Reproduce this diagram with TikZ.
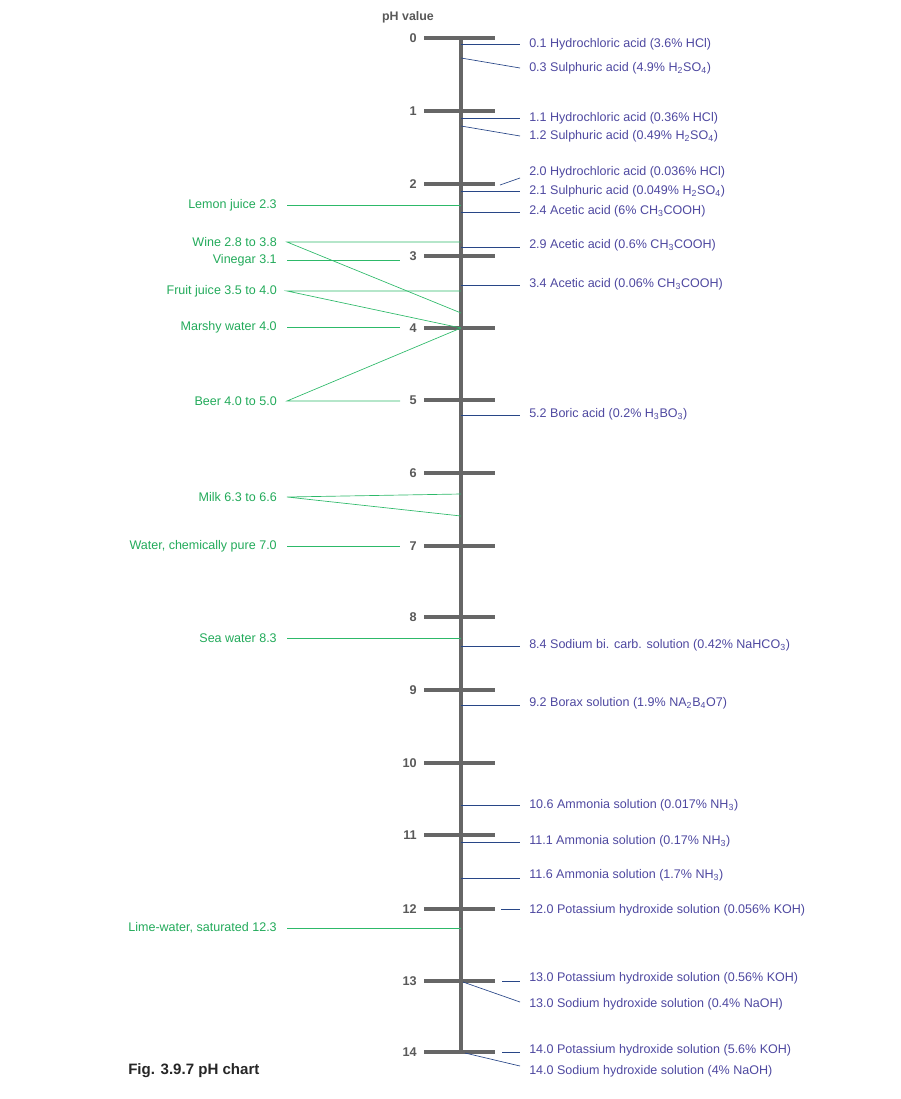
\documentclass[tikz,border=0pt]{standalone}
\usepackage{fontspec}
\setmainfont{Liberation Sans}
\begin{document}
\begin{tikzpicture}[x=0.75pt,y=-0.75pt,
  axis/.style={draw=black!60,line width=2.3pt},
  num/.style={font=\bfseries\fontsize{9.5}{10}\selectfont,text=black!65,anchor=east,inner sep=0},
  rl/.style={font=\fontsize{9.4}{10}\selectfont,text={rgb,255:red,78;green,72;blue,160},anchor=west,inner sep=0},
  ll/.style={font=\fontsize{9.4}{10}\selectfont,text={rgb,255:red,34;green,170;blue,90},anchor=east,inner sep=0},
  rc/.style={draw={rgb,255:red,40;green,70;blue,135},line width=0.5pt},
  lc/.style={draw={rgb,255:red,45;green,185;blue,105},line width=0.5pt}]
\useasboundingbox (0,0) rectangle (900,1099);
\node[font=\bfseries\fontsize{9.3}{10}\selectfont,text=black!65,inner sep=0] (phv) at (408,17) {pH value};
\coordinate (top) at (461,38); \coordinate (bot) at (461,1052);
\draw[axis] (top) -- (bot);
\foreach \i/\y in {0/38,1/111,2/184,3/256,4/328,5/400,6/473,7/546,8/617,9/690,10/763,11/835,12/909,13/981,14/1052}{
  \coordinate (ta\i) at (424,\y); \coordinate (tb\i) at (495,\y);
  \draw[axis] (ta\i) -- (tb\i);
  \node[num] (n\i) at (417,\y) {\i};
}
% right side
\foreach \nm/\ya/\xa/\yb/\yt/\txt in {
 a/44/461/44/44/{0.1 Hydrochloric acid (3.6\% HCl)},
 b/58/461/68/68/{0.3 Sulphuric acid (4.9\% H\textsubscript{2}SO\textsubscript{4})},
 c/118/461/118/118/{1.1 Hydrochloric acid (0.36\% HCl)},
 d/126/461/136/136/{1.2 Sulphuric acid (0.49\% H\textsubscript{2}SO\textsubscript{4})},
 e/185/500/178/172/{2.0 Hydrochloric acid (0.036\% HCl)},
 f/191/461/191/191/{2.1 Sulphuric acid (0.049\% H\textsubscript{2}SO\textsubscript{4})},
 g/212/461/212/211/{2.4 Acetic acid (6\% CH\textsubscript{3}COOH)},
 h/247/461/247/245/{2.9 Acetic acid (0.6\% CH\textsubscript{3}COOH)},
 i/285/461/285/284/{3.4 Acetic acid (0.06\% CH\textsubscript{3}COOH)},
 j/415/461/415/414/{5.2 Boric acid (0.2\% H\textsubscript{3}BO\textsubscript{3})},
 k/646/461/646/645/{8.4 Sodium bi. carb. solution (0.42\% NaHCO\textsubscript{3})},
 l/705/461/705/703/{9.2 Borax solution (1.9\% NA\textsubscript{2}B\textsubscript{4}O7)},
 m/805/461/805/805/{10.6 Ammonia solution (0.017\% NH\textsubscript{3})},
 n/842/461/842/841/{11.1 Ammonia solution (0.17\% NH\textsubscript{3})},
 o/878/461/878/875/{11.6 Ammonia solution (1.7\% NH\textsubscript{3})},
 p/909/501/909/910/{12.0 Potassium hydroxide solution (0.056\% KOH)},
 q/981/502/981/978/{13.0 Potassium hydroxide solution (0.56\% KOH)},
 r/982/463/1002/1004/{13.0 Sodium hydroxide solution (0.4\% NaOH)},
 s/1052/502/1052/1050/{14.0 Potassium hydroxide solution (5.6\% KOH)},
 t/1053/465/1066/1071/{14.0 Sodium hydroxide solution (4\% NaOH)}}{
  \coordinate (ra\nm) at (\xa,\ya); \coordinate (rb\nm) at (520,\yb);
  \draw[rc] (ra\nm) -- (rb\nm);
  \node[rl] (rt\nm) at (529,\yt) {\txt};
}
% left side
\foreach \nm/\y/\txt in {
 lem/205/{Lemon juice 2.3}, win/242/{Wine 2.8 to 3.8}, vin/260/{Vinegar 3.1},
 fru/291/{Fruit juice 3.5 to 4.0}, mar/327/{Marshy water 4.0}, bee/401/{Beer 4.0 to 5.0},
 mil/497/{Milk 6.3 to 6.6}, wat/546/{Water, chemically pure 7.0}, sea/638/{Sea water 8.3},
 lim/928/{Lime-water, saturated 12.3}}{
  \node[ll] (\nm) at (277,\y) {\txt};
  \coordinate (s\nm) at (287,\y);
}
\coordinate (e1) at (461,205); \draw[lc] (slem) -- (e1);
\coordinate (e2) at (461,242); \coordinate (e3) at (461,313); \draw[lc] (e2) -- (swin) -- (e3);
\coordinate (e4) at (400,260); \draw[lc] (svin) -- (e4);
\coordinate (e5) at (461,291); \coordinate (e6) at (461,328); \draw[lc] (e5) -- (sfru) -- (e6);
\coordinate (e7) at (400,327); \draw[lc] (smar) -- (e7);
\coordinate (e8) at (400,401); \draw[lc] (e6) -- (sbee) -- (e8);
\coordinate (e9) at (461,494); \coordinate (e10) at (461,516); \draw[lc] (e9) -- (smil) -- (e10);
\coordinate (e11) at (400,546); \draw[lc] (swat) -- (e11);
\coordinate (e12) at (461,638); \draw[lc] (ssea) -- (e12);
\coordinate (e13) at (461,928); \draw[lc] (slim) -- (e13);
\node[font=\bfseries\fontsize{11.3}{13}\selectfont,text=black!85,anchor=west,inner sep=0] (fig) at (128,1071) {Fig. 3.9.7 pH chart};
\end{tikzpicture}
\end{document}
